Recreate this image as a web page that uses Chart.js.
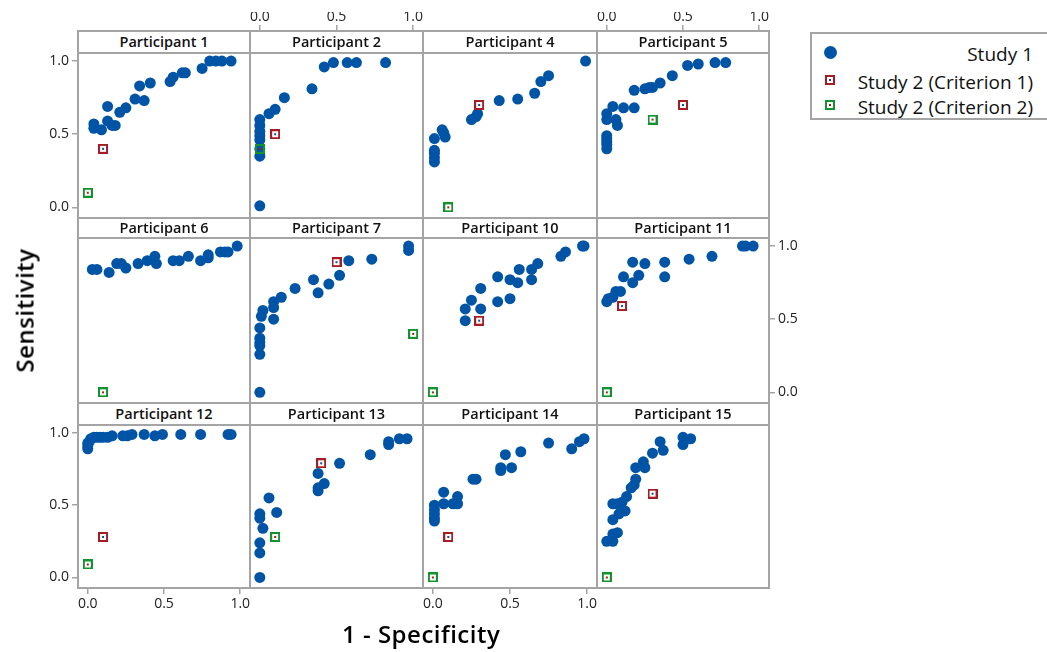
<!DOCTYPE html>
<html>
<head>
<meta charset="utf-8">
<script src="https://cdn.jsdelivr.net/npm/chart.js@4.4.1/dist/chart.umd.min.js"></script>
<style>
  body { margin: 0; background: #fff; }
  #fig { position: relative; width: 1047px; height: 652px; overflow: hidden; font-family: "Open Sans", "Noto Sans", sans-serif; color: #111; }
  #fig canvas { position: absolute; }
  .panel { position: absolute; box-sizing: border-box; border: 2px solid #a4a4a4; z-index: 2; }
  .strip { position: absolute; left: 0; right: 0; top: 0; box-sizing: border-box; border-bottom: 2px solid #a4a4a4;
           background: #fff; text-align: center; font-size: 14.5px; font-weight: 600; }
  .title { position: absolute; font-size: 24px; font-weight: 600; letter-spacing: 0.5px; white-space: nowrap; color: #000; }
  #legend { position: absolute; left: 810px; top: 32px; width: 260px; height: 88px; box-sizing: border-box; border: 2px solid #a4a4a4; }
  #legend .row { position: absolute; left: 0; width: 221px; text-align: right; font-size: 19px; line-height: 22px; white-space: nowrap; }
  #legend .mark { position: absolute; }
</style>
</head>
<body>
<div id="fig"></div>
<script>
// panel titles, in grid order (3 rows x 4 columns)
const participants = ['Participant 1', 'Participant 2', 'Participant 4', 'Participant 5',
  'Participant 6', 'Participant 7', 'Participant 10', 'Participant 11',
  'Participant 12', 'Participant 13', 'Participant 14', 'Participant 15']

// Study 1: [1 - specificity, sensitivity] per participant
const p1 = [[0.04,0.57],[0.04,0.54],[0.09,0.53],[0.13,0.69],[0.13,0.59],[0.16,0.56],[0.18,0.56],[0.21,0.65],[0.25,0.68],[0.31,0.74],[0.34,0.83],[0.37,0.73],[0.41,0.85],[0.54,0.86],[0.56,0.89],[0.62,0.92],[0.64,0.92],[0.75,0.95],[0.80,1.0],[0.84,1.0],[0.88,1.0],[0.94,1.0]]
const p2 = [[0,0.6],[0,0.56],[0,0.52],[0,0.49],[0,0.46],[0,0.4],[0,0.35],[0,0.01],[0.06,0.64],[0.1,0.67],[0.16,0.75],[0.34,0.81],[0.42,0.96],[0.48,0.99],[0.57,0.99],[0.63,0.99],[0.82,0.99]]
const p4 = [[0.01,0.47],[0.01,0.39],[0.01,0.37],[0.01,0.34],[0.01,0.31],[0.06,0.53],[0.07,0.51],[0.08,0.48],[0.25,0.6],[0.28,0.62],[0.29,0.64],[0.43,0.73],[0.55,0.74],[0.66,0.78],[0.7,0.86],[0.75,0.9],[0.99,1.0]]
const p5 = [[0,0.64],[0,0.6],[0,0.49],[0,0.47],[0,0.45],[0,0.43],[0,0.4],[0.04,0.69],[0.06,0.6],[0.07,0.56],[0.11,0.68],[0.18,0.68],[0.18,0.8],[0.25,0.81],[0.28,0.82],[0.3,0.82],[0.35,0.85],[0.43,0.9],[0.53,0.97],[0.6,0.98],[0.71,0.99],[0.78,0.99]]
const p6 = [[0.03,0.84],[0.06,0.84],[0.14,0.82],[0.19,0.88],[0.22,0.88],[0.25,0.85],[0.33,0.88],[0.39,0.9],[0.44,0.93],[0.45,0.88],[0.56,0.9],[0.6,0.9],[0.66,0.93],[0.74,0.9],[0.79,0.94],[0.79,0.92],[0.87,0.96],[0.9,0.96],[0.92,0.96],[0.98,1.0]]
const p7 = [[0,0.44],[0,0.37],[0,0.34],[0,0.32],[0,0.26],[0,0],[0.01,0.52],[0.02,0.56],[0.09,0.62],[0.09,0.58],[0.09,0.5],[0.14,0.65],[0.23,0.71],[0.35,0.77],[0.38,0.68],[0.45,0.74],[0.52,0.8],[0.58,0.9],[0.73,0.91],[0.97,1.0],[0.97,0.97]]
const p10 = [[0.21,0.49],[0.21,0.57],[0.25,0.63],[0.31,0.71],[0.31,0.57],[0.42,0.79],[0.42,0.62],[0.5,0.77],[0.5,0.64],[0.55,0.75],[0.56,0.84],[0.64,0.84],[0.64,0.77],[0.68,0.88],[0.83,0.93],[0.86,0.96],[0.97,1.0],[0.98,1.0]]
const p11 = [[0,0.62],[0.01,0.64],[0.04,0.65],[0.06,0.69],[0.09,0.69],[0.11,0.79],[0.17,0.89],[0.17,0.75],[0.21,0.8],[0.25,0.88],[0.38,0.89],[0.38,0.79],[0.54,0.91],[0.69,0.93],[0.89,1.0],[0.91,1.0],[0.96,1.0]]
const p12 = [[0,0.89],[0,0.91],[0,0.93],[0.01,0.94],[0.02,0.96],[0.04,0.97],[0.06,0.97],[0.08,0.97],[0.1,0.97],[0.13,0.97],[0.16,0.98],[0.23,0.98],[0.26,0.98],[0.29,0.99],[0.37,0.99],[0.44,0.98],[0.49,0.99],[0.61,0.99],[0.74,0.99],[0.92,0.99],[0.94,0.99]]
const p13 = [[0,0],[0,0.17],[0,0.24],[0,0.41],[0,0.44],[0.02,0.34],[0.06,0.55],[0.11,0.45],[0.38,0.72],[0.38,0.6],[0.38,0.62],[0.42,0.65],[0.52,0.79],[0.72,0.85],[0.84,0.94],[0.84,0.92],[0.91,0.96],[0.96,0.96]]
const p14 = [[0.01,0.5],[0.01,0.47],[0.01,0.44],[0.01,0.41],[0.01,0.39],[0.07,0.59],[0.07,0.51],[0.13,0.51],[0.16,0.51],[0.16,0.56],[0.26,0.68],[0.28,0.68],[0.44,0.76],[0.44,0.74],[0.47,0.85],[0.51,0.76],[0.57,0.87],[0.75,0.93],[0.9,0.89],[0.95,0.94],[0.98,0.96]]
const p15 = [[0,0.25],[0.04,0.25],[0.04,0.3],[0.07,0.31],[0.04,0.4],[0.08,0.44],[0.12,0.46],[0.04,0.51],[0.07,0.51],[0.1,0.52],[0.13,0.56],[0.16,0.62],[0.18,0.64],[0.19,0.68],[0.19,0.76],[0.25,0.76],[0.24,0.8],[0.3,0.86],[0.35,0.94],[0.37,0.88],[0.5,0.97],[0.5,0.92],[0.55,0.96]]
const study1 = [p1, p2, p4, p5, p6, p7, p10, p11, p12, p13, p14, p15]

// Study 2 single operating points, same participant order (null = none)
const crit1 = [[0.1,0.4],[0.1,0.5],[0.3,0.7],[0.5,0.7],null,[0.5,0.89],[0.3,0.49],[0.1,0.59],[0.1,0.28],[0.4,0.79],[0.1,0.28],[0.3,0.58]]
const crit2 = [[0,0.1],[0,0.4],[0.1,0],[0.3,0.6],[0.1,0],[1.0,0.4],[0,0],[0,0],[0,0.09],[0.1,0.28],[0,0],[0,0]]

const legendLabels = ['Study 1', 'Study 2 (Criterion 1)', 'Study 2 (Criterion 2)']
const tickVals = [0, 0.5, 1.0]
const xRange = [-0.064, 1.064]
const yRange = [-0.073, 1.062]

// grid geometry
const colEdges = [78, 250, 423, 597, 769]
const rowHead = [31, 218, 403]
const rowTop = [52, 237, 424]
const rowBottom = [218, 403, 588]
const M = 40

const BLUE = '#0054a6'
const RED = '#a51d24'
const GREEN = '#139230'
const TICK = '#a4a4a4'
const FONT = '"Open Sans", "Noto Sans", sans-serif'

const fig = document.getElementById('fig')

function squareMarker(edge, dot){
  const c = document.createElement('canvas')
  c.width = 10
  c.height = 10
  const ctx = c.getContext('2d')
  ctx.strokeStyle = edge
  ctx.lineWidth = 2
  ctx.strokeRect(1, 1, 8, 8)
  ctx.fillStyle = dot
  ctx.fillRect(4, 4, 2, 2)
  return c
}
const redMark = squareMarker(RED, BLUE)
const greenMark = squareMarker(GREEN, RED)

function toPts(arr){
  return arr.map(p => ({x: p[0], y: p[1]}))
}

// pos = null -> hidden scale that takes no room
// top axes sit above the header strip, so their ticks run under it (strip is opaque)
function axis(pos, range, dim, tickLen, pad){
  return {
    type: 'linear',
    min: range[0],
    max: range[1],
    display: !!pos,
    position: pos || (dim === 'height' ? 'bottom' : 'left'),
    grid: {drawOnChartArea: false, drawTicks: true, tickLength: tickLen, color: TICK, lineWidth: 1.5},
    border: {display: false},
    ticks: {padding: pad, color: '#222', font: {size: 14, family: FONT}, maxRotation: 0,
      callback: v => v.toFixed(1)},
    afterBuildTicks: s => { s.ticks = tickVals.map(v => ({value: v})) },
    afterFit: s => { s[dim] = pos ? M : 0 }
  }
}

participants.forEach((name, i) => {
  const r = Math.floor(i / 4)
  const c = i % 4
  const left = colEdges[c]
  const w = colEdges[c + 1] - left

  // frame + header strip
  const box = document.createElement('div')
  box.className = 'panel'
  box.style.left = (left - 1) + 'px'
  box.style.top = (rowHead[r] - 1) + 'px'
  box.style.width = (w + 2) + 'px'
  box.style.height = (rowBottom[r] - rowHead[r] + 2) + 'px'
  const strip = document.createElement('div')
  strip.className = 'strip'
  strip.style.height = (rowTop[r] - rowHead[r] + 1) + 'px'
  strip.style.lineHeight = (rowTop[r] - rowHead[r] - 1) + 'px'
  strip.textContent = name
  box.appendChild(strip)
  fig.appendChild(box)

  // which outer edges carry tick labels
  let xPos = null
  if (r === 0 && c % 2 === 1) xPos = 'top'
  if (r === 2 && c % 2 === 0) xPos = 'bottom'
  let yPos = null
  if (c === 0 && r !== 1) yPos = 'left'
  if (c === 3 && r === 1) yPos = 'right'
  const stripH = rowTop[r] - rowHead[r]

  const h = rowBottom[r] - rowTop[r]
  const cv = document.createElement('canvas')
  cv.width = w + 2 * M
  cv.height = h + 2 * M
  cv.style.left = (left - M) + 'px'
  cv.style.top = (rowTop[r] - M) + 'px'
  fig.appendChild(cv)

  const sets = [
    {label: legendLabels[0], data: toPts(study1[i]), backgroundColor: BLUE, borderWidth: 0,
      pointRadius: 5.5, order: 3}
  ]
  if (crit1[i]) sets.push({label: legendLabels[1], data: toPts([crit1[i]]), pointStyle: redMark, order: 2})
  if (crit2[i]) sets.push({label: legendLabels[2], data: toPts([crit2[i]]), pointStyle: greenMark, order: 1})

  new Chart(cv, {
    type: 'scatter',
    data: {datasets: sets},
    options: {
      responsive: false,
      animation: false,
      events: [],
      layout: {
        autoPadding: false,
        padding: {
          left: yPos === 'left' ? 0 : M,
          right: yPos === 'right' ? 0 : M,
          top: xPos === 'top' ? 0 : M,
          bottom: xPos === 'bottom' ? 0 : M
        }
      },
      plugins: {legend: {display: false}, tooltip: {enabled: false}},
      scales: {
        x: xPos === 'top' ? axis(xPos, xRange, 'height', stripH + 6, 0) : axis(xPos, xRange, 'height', 6, 2),
        y: axis(yPos, yRange, 'width', 6, 3)
      }
    }
  })
})

// axis titles
const xTitle = document.createElement('div')
xTitle.className = 'title'
xTitle.textContent = '1 - Specificity'
fig.appendChild(xTitle)
xTitle.style.left = (421 - xTitle.offsetWidth / 2) + 'px'
xTitle.style.top = (633 - xTitle.offsetHeight / 2) + 'px'

const yTitle = document.createElement('div')
yTitle.className = 'title'
yTitle.textContent = 'Sensitivity'
fig.appendChild(yTitle)
yTitle.style.left = (24 - yTitle.offsetWidth / 2) + 'px'
yTitle.style.top = (310 - yTitle.offsetHeight / 2) + 'px'
yTitle.style.transform = 'rotate(-90deg)'

// legend
const legend = document.createElement('div')
legend.id = 'legend'
const rowY = [20, 48, 73]
legendLabels.forEach((lab, k) => {
  const row = document.createElement('div')
  row.className = 'row'
  row.style.top = (rowY[k] - 11) + 'px'
  row.textContent = lab
  legend.appendChild(row)
  let mk
  if (k === 0){
    mk = document.createElement('div')
    mk.style.width = '13px'
    mk.style.height = '13px'
    mk.style.borderRadius = '50%'
    mk.style.background = BLUE
    mk.style.left = '12px'
    mk.style.top = (rowY[k] - 8) + 'px'
  } else {
    mk = squareMarker(k === 1 ? RED : GREEN, k === 1 ? BLUE : RED)
    mk.style.left = '13px'
    mk.style.top = (rowY[k] - 7) + 'px'
  }
  mk.className = 'mark'
  legend.appendChild(mk)
})
fig.appendChild(legend)
</script>
</body>
</html>
